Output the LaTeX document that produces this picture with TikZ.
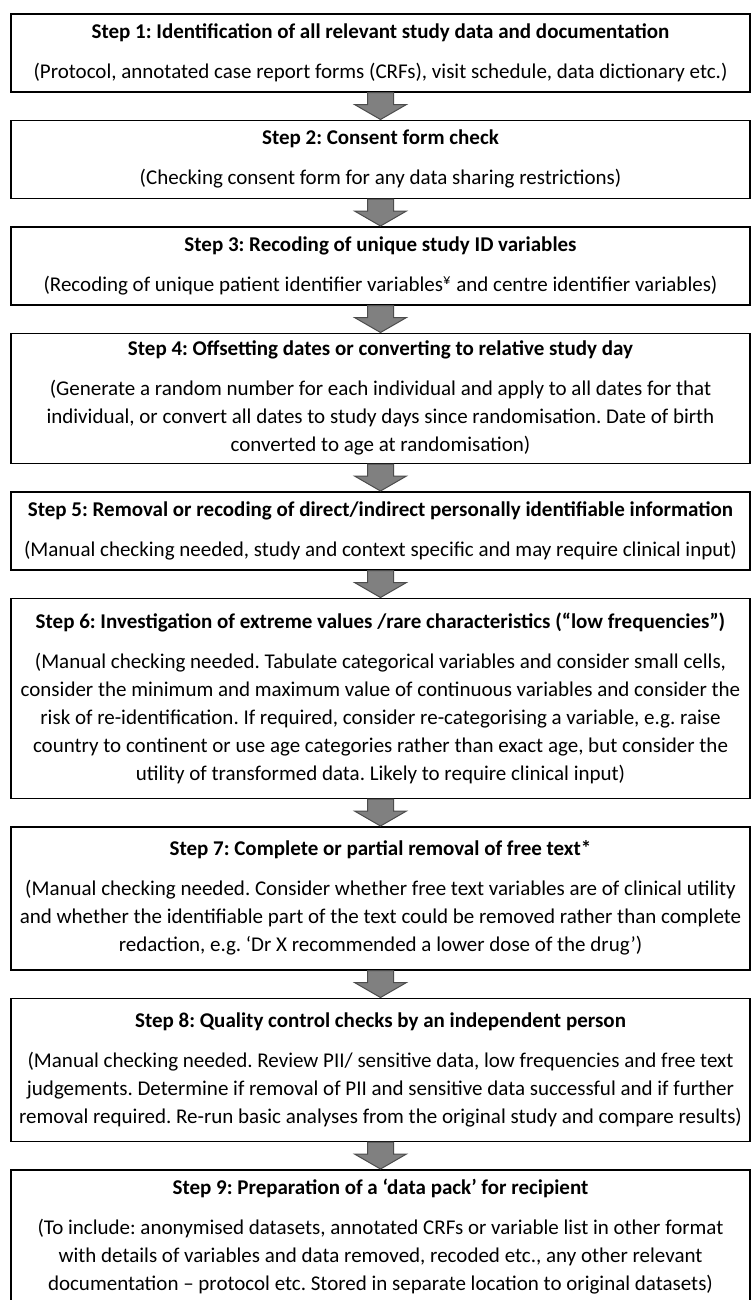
\documentclass[tikz,border=0pt]{standalone}
\usepackage{fontspec}
\setmainfont{Carlito}
\usetikzlibrary{positioning,calc}
\frenchspacing
\tikzstyle{stepbox} = [draw, line width=0.9pt, fill=white, rectangle, minimum width=443.4pt, inner xsep=2pt, inner ysep=4pt, align=center, font=\fontsize{12.6}{16.8}\selectfont]
\tikzstyle{downarrow} = [draw=black!70, fill=black!50, line width=0.6pt, to path={let \p1=(\tikztostart), \p2=(\tikztotarget) in (\x1-7.8pt,\y1) -- (\x1+7.8pt,\y1) -- (\x1+7.8pt,\y2+9pt) -- (\x1+15.6pt,\y2+9pt) -- (\x1,\y2) -- (\x1-15.6pt,\y2+9pt) -- (\x1-7.8pt,\y2+9pt) -- cycle}]
\newcommand{\steptitle}[1]{\textbf{#1}\\[7.2pt]}

\begin{document}
\begin{tikzpicture}[node distance=16.2pt]
	\useasboundingbox (0,0) rectangle (453pt,-780pt); % page
	\fill[white] (0,0) rectangle (453pt,-780pt);
	\node[stepbox,minimum height=46.8pt,anchor=north] (step1) at (228.3pt,-7.8pt) {\steptitle{Step 1: Identification of all relevant study data and documentation}(Protocol, annotated case report forms (CRFs), visit schedule, data dictionary etc.)};
	\node[stepbox,minimum height=46.8pt,below=of step1] (step2) {\steptitle{Step 2: Consent form check}(Checking consent form for any data sharing restrictions)};
	\node[stepbox,minimum height=46.8pt,below=of step2] (step3) {\steptitle{Step 3: Recoding of unique study ID variables}(Recoding of unique patient identifier variables\textsuperscript{¥} and centre identifier variables)};
	\node[stepbox,minimum height=78pt,below=of step3] (step4) {\steptitle{Step 4: Offsetting dates or converting to relative study day}(Generate a random number for each individual and apply to all dates for that\\individual, or convert all dates to study days since randomisation. Date of birth\\converted to age at randomisation)};
	\node[stepbox,minimum height=46.8pt,below=of step4] (step5) {\steptitle{Step 5: Removal or recoding of direct/indirect personally identifiable information}(Manual checking needed, study and context specific and may require clinical input)};
	\node[stepbox,minimum height=120pt,below=of step5] (step6) {\steptitle{Step 6: Investigation of extreme values /rare characteristics (“low frequencies”)}(Manual checking needed. Tabulate categorical variables and consider small cells,\\consider the minimum and maximum value of continuous variables and consider the\\risk of re-identification. If required, consider re-categorising a variable, e.g. raise\\country to continent or use age categories rather than exact age, but consider the\\utility of transformed data. Likely to require clinical input)};
	\node[stepbox,minimum height=85.8pt,below=of step6] (step7) {\steptitle{Step 7: Complete or partial removal of free text*}(Manual checking needed. Consider whether free text variables are of clinical utility\\and whether the identifiable part of the text could be removed rather than complete\\redaction, e.g. ‘Dr X recommended a lower dose of the drug’)};
	\node[stepbox,minimum height=85.8pt,below=of step7] (step8) {\steptitle{Step 8: Quality control checks by an independent person}(Manual checking needed. Review PII/ sensitive data, low frequencies and free text\\judgements. Determine if removal of PII and sensitive data successful and if further\\removal required. Re-run basic analyses from the original study and compare results)};
	\node[stepbox,minimum height=80.4pt,below=of step8] (step9) {\steptitle{Step 9: Preparation of a ‘data pack’ for recipient}(To include: anonymised datasets, annotated CRFs or variable list in other format\\with details of variables and data removed, recoded etc., any other relevant\\documentation – protocol etc. Stored in separate location to original datasets)};
	% block arrows
	\foreach \a/\b in {1/2,2/3,3/4,4/5,5/6,6/7,7/8,8/9}
		\draw[downarrow] (step\a.south) to (step\b.north);
\end{tikzpicture}
\end{document}
